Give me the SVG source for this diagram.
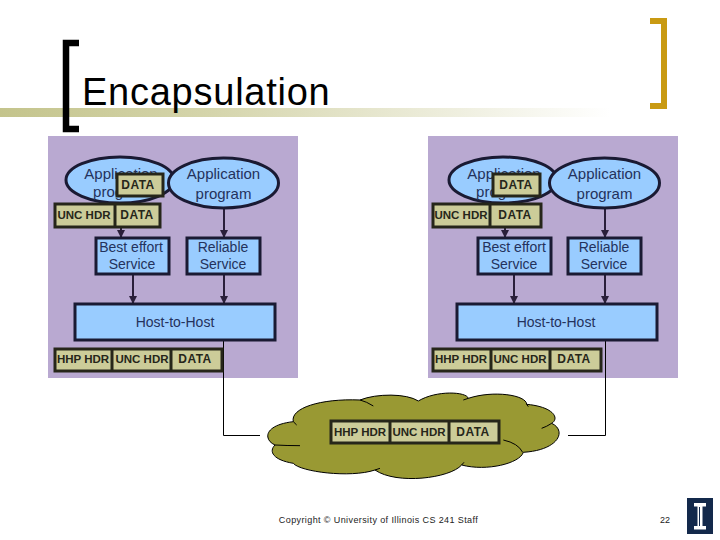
<svg xmlns="http://www.w3.org/2000/svg" width="720" height="540" viewBox="0 0 720 540">
<style>
text{font-family:"Liberation Sans",Arial,sans-serif;text-anchor:middle;fill:#24325c}
.b{fill:#99ccff;stroke:#1a1a33;stroke-width:3}
.h{fill:#99ccff;stroke:#1a1a33;stroke-width:3}
.p{fill:#b9a9d1}
.l{font-size:15px}
.s{font-size:14px}
.d{fill:#cccc99;stroke:#26261a;stroke-width:3}
.t{font-size:12px;font-weight:bold;fill:#26261a;letter-spacing:.5px}
.u{letter-spacing:0;font-size:11.500px}
.c{stroke:#2a1f3a;stroke-width:2;fill:none;marker-end:url(#a)}
.w{stroke:#000;stroke-width:1;fill:none}
</style>
<defs>
<linearGradient id="g"><stop offset="0" stop-color="#c4c48c"/><stop offset=".35" stop-color="#d5d5ac"/><stop offset="1" stop-color="#fff"/></linearGradient>
<marker id="a" markerUnits="userSpaceOnUse" markerWidth="9" markerHeight="8" refX="8" refY="4" orient="auto"><path d="M0 0L8 4L0 8Z" fill="#2a1f3a"/></marker>
</defs>
<rect id="title-bar" x="0" y="108" width="610" height="9" fill="url(#g)"/>
<path id="bracket-left" d="M79 43H66V129H79" fill="none" stroke="#000" stroke-width="6.500"/>
<path id="bracket-right" d="M650 21H664V106H650" fill="none" stroke="#c99a12" stroke-width="6"/>
<text id="title" x="82" y="105" style="text-anchor:start;fill:#000;font-size:38px;letter-spacing:.75px">Encapsulation</text>

<rect id="panel-left" class="p" x="48" y="136" width="250" height="242"/>
<rect id="panel-right" class="p" x="428" y="136" width="250" height="242"/>

<g id="connectors">
<path class="c" d="M121 227V238"/>
<path class="c" d="M133 274V304"/>
<path class="c" d="M224 208V238"/>
<path class="c" d="M224 274V304"/>
<path class="c" d="M505 227V238"/>
<path class="c" d="M514 274V304"/>
<path class="c" d="M605 208V238"/>
<path class="c" d="M605 274V304"/>
<path class="w" d="M223.500 341V435.500H260"/>
<path class="w" d="M605.500 341V435.500H568"/>
</g>

<g id="app-l1"><ellipse class="b" cx="120" cy="180" rx="54" ry="23"/><text class="l" x="121" y="179">Application</text><text class="l" x="121" y="197">program</text></g>
<g id="app-l2"><ellipse class="b" cx="223.500" cy="183" rx="55" ry="25"/><text class="l" x="223.500" y="179">Application</text><text class="l" x="223.500" y="199">program</text></g>
<g id="data-l"><rect class="d" x="117" y="174" width="46" height="22"/><text class="t" x="138" y="189">DATA</text></g>
<g id="unc-l"><rect class="d" x="55" y="204" width="105" height="23"/><path class="d" d="M115 204V227"/><text class="t u" x="84" y="219">UNC HDR</text><text class="t" x="137" y="219">DATA</text></g>
<g id="best-l"><rect class="b" x="96" y="238" width="73" height="36"/><text class="s" x="131" y="252">Best effort</text><text class="s" x="132" y="269">Service</text></g>
<g id="rel-l"><rect class="b" x="187" y="238" width="73" height="36"/><text class="s" x="223" y="252">Reliable</text><text class="s" x="223" y="269">Service</text></g>
<g id="host-l"><rect class="h" x="75" y="304" width="200" height="36"/><text class="s" x="175" y="327">Host-to-Host</text></g>
<g id="hhp-l"><rect class="d" x="55" y="349" width="167" height="22"/><path class="d" d="M112 349V371M171 349V371"/><text class="t u" x="83" y="363">HHP HDR</text><text class="t u" x="142" y="363">UNC HDR</text><text class="t" x="195" y="363">DATA</text></g>

<g id="app-r1"><ellipse class="b" cx="503" cy="180" rx="54" ry="23"/><text class="l" x="504" y="179">Application</text><text class="l" x="504" y="197">program</text></g>
<g id="app-r2"><ellipse class="b" cx="604.500" cy="183" rx="55" ry="25"/><text class="l" x="604.500" y="179">Application</text><text class="l" x="604.500" y="199">program</text></g>
<g id="data-r"><rect class="d" x="493" y="174" width="47" height="22"/><text class="t" x="516" y="189">DATA</text></g>
<g id="unc-r"><rect class="d" x="433" y="204" width="108" height="23"/><path class="d" d="M490 204V227"/><text class="t u" x="461" y="219">UNC HDR</text><text class="t" x="515" y="219">DATA</text></g>
<g id="best-r"><rect class="b" x="478" y="238" width="73" height="36"/><text class="s" x="514" y="252">Best effort</text><text class="s" x="514" y="269">Service</text></g>
<g id="rel-r"><rect class="b" x="568" y="238" width="73" height="36"/><text class="s" x="604" y="252">Reliable</text><text class="s" x="604" y="269">Service</text></g>
<g id="host-r"><rect class="h" x="457" y="304" width="200" height="36"/><text class="s" x="556" y="327">Host-to-Host</text></g>
<g id="hhp-r"><rect class="d" x="433" y="349" width="168" height="22"/><path class="d" d="M491 349V371M550 349V371"/><text class="t u" x="461" y="363">HHP HDR</text><text class="t u" x="520" y="363">UNC HDR</text><text class="t" x="574" y="363">DATA</text></g>

<g id="cloud">
<path transform="translate(210 375) scale(.3333)" fill="#999933" stroke="#000" stroke-width="3" d="M195 210C160 195 160 150 250 140C240 100 330 70 450 75C500 55 590 55 625 78C680 45 770 50 775 70C850 45 950 60 950 88C1030 95 1050 130 1025 145C1070 165 1050 225 940 232C930 265 830 290 755 270C720 310 560 330 495 285C420 310 270 290 250 265C190 255 175 230 195 210Z"/>
<path transform="translate(210 375) scale(.3333)" fill="none" stroke="#000" stroke-width="3" d="M250 140L260 150M450 75Q470 80 490 93M775 70L760 75M950 88L955 95M1025 145Q1010 155 995 160M880 195Q925 205 938 232M755 270L762 262M495 285L510 280M195 210Q230 212 270 212"/>
<rect class="d" x="331" y="421" width="168" height="22"/><path class="d" d="M390 421V443M449 421V443"/><text class="t u" x="360" y="436">HHP HDR</text><text class="t u" x="419" y="436">UNC HDR</text><text class="t" x="473" y="436">DATA</text>
</g>

<text id="copyright" x="378.500" y="523" style="font-size:9px;fill:#222;letter-spacing:.4px">Copyright © University of Illinois CS 241 Staff</text>
<text id="page" x="665" y="523" style="font-size:9px;fill:#222">22</text>
<g id="logo"><rect x="687" y="498" width="26" height="36" fill="#13294b"/><path d="M694 503H706V506.500H702.500V526H706V529.500H694V526H697.500V506.500H694Z" fill="#fff"/><path d="M699.500 507V526" stroke="#13294b" stroke-width="1"/></g>
</svg>
